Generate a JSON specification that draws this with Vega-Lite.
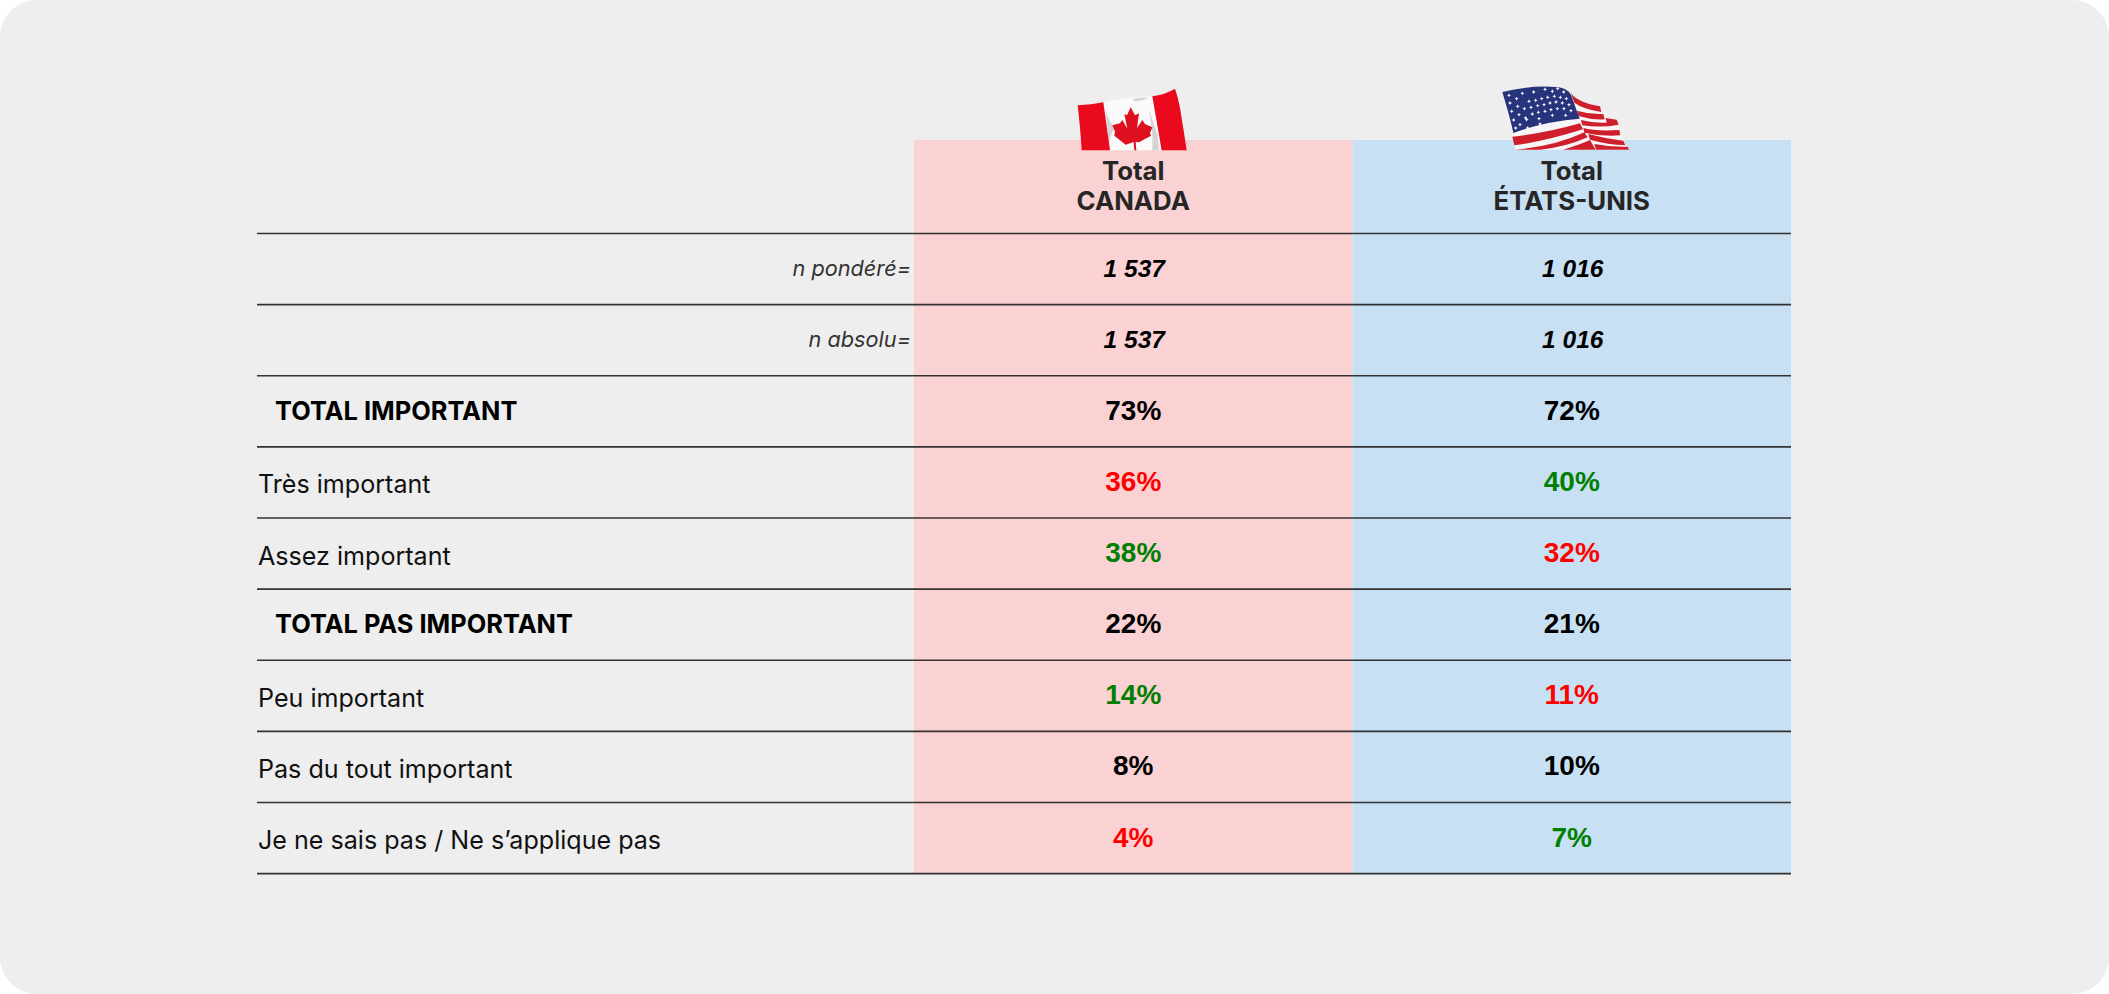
{
"$schema":"https://vega.github.io/schema/vega-lite/v6.json",
"width":2109,"height":994,"padding":0,"autosize":{"type":"none"},
"background":"#ffffff",
"config":{"view":{"stroke":null,"fill":"#eeeeee","cornerRadius":37}},
"resolve":{"scale":{"x":"independent","y":"independent","color":"independent","shape":"independent"}},
"datasets":{
"pays":[{"pays":"CANADA","bloc":"table"},{"pays":"ÉTATS-UNIS","bloc":"table"}],
"lignes":[{"ligne":"haut"},{"ligne":"n pondéré="},{"ligne":"n absolu="},{"ligne":"TOTAL IMPORTANT"},{"ligne":"Très important"},{"ligne":"Assez important"},{"ligne":"TOTAL PAS IMPORTANT"},{"ligne":"Peu important"},{"ligne":"Pas du tout important"},{"ligne":"Je ne sais pas / Ne s’applique pas"}],
"libelles":[
{"ligne":"n pondéré=","niveau":"n","colonne":"libellé"},
{"ligne":"n absolu=","niveau":"n","colonne":"libellé"},
{"ligne":"TOTAL IMPORTANT","niveau":"total","colonne":"libellé"},
{"ligne":"Très important","niveau":"item","colonne":"libellé"},
{"ligne":"Assez important","niveau":"item","colonne":"libellé"},
{"ligne":"TOTAL PAS IMPORTANT","niveau":"total","colonne":"libellé"},
{"ligne":"Peu important","niveau":"item","colonne":"libellé"},
{"ligne":"Pas du tout important","niveau":"item","colonne":"libellé"},
{"ligne":"Je ne sais pas / Ne s’applique pas","niveau":"item","colonne":"libellé"}],
"valeurs":[
{"ligne":"n pondéré=","pays":"CANADA","valeur":"1 537","type":"n","statut":"neutre"},
{"ligne":"n pondéré=","pays":"ÉTATS-UNIS","valeur":"1 016","type":"n","statut":"neutre"},
{"ligne":"n absolu=","pays":"CANADA","valeur":"1 537","type":"n","statut":"neutre"},
{"ligne":"n absolu=","pays":"ÉTATS-UNIS","valeur":"1 016","type":"n","statut":"neutre"},
{"ligne":"TOTAL IMPORTANT","pays":"CANADA","valeur":"73%","type":"pct","statut":"neutre"},
{"ligne":"TOTAL IMPORTANT","pays":"ÉTATS-UNIS","valeur":"72%","type":"pct","statut":"neutre"},
{"ligne":"Très important","pays":"CANADA","valeur":"36%","type":"pct","statut":"bas"},
{"ligne":"Très important","pays":"ÉTATS-UNIS","valeur":"40%","type":"pct","statut":"haut"},
{"ligne":"Assez important","pays":"CANADA","valeur":"38%","type":"pct","statut":"haut"},
{"ligne":"Assez important","pays":"ÉTATS-UNIS","valeur":"32%","type":"pct","statut":"bas"},
{"ligne":"TOTAL PAS IMPORTANT","pays":"CANADA","valeur":"22%","type":"pct","statut":"neutre"},
{"ligne":"TOTAL PAS IMPORTANT","pays":"ÉTATS-UNIS","valeur":"21%","type":"pct","statut":"neutre"},
{"ligne":"Peu important","pays":"CANADA","valeur":"14%","type":"pct","statut":"haut"},
{"ligne":"Peu important","pays":"ÉTATS-UNIS","valeur":"11%","type":"pct","statut":"bas"},
{"ligne":"Pas du tout important","pays":"CANADA","valeur":"8%","type":"pct","statut":"neutre"},
{"ligne":"Pas du tout important","pays":"ÉTATS-UNIS","valeur":"10%","type":"pct","statut":"neutre"},
{"ligne":"Je ne sais pas / Ne s’applique pas","pays":"CANADA","valeur":"4%","type":"pct","statut":"bas"},
{"ligne":"Je ne sais pas / Ne s’applique pas","pays":"ÉTATS-UNIS","valeur":"7%","type":"pct","statut":"haut"}],
"entetes":[
{"pays":"CANADA","rang":"un","texte":"Total"},{"pays":"CANADA","rang":"deux","texte":"CANADA"},
{"pays":"ÉTATS-UNIS","rang":"un","texte":"Total"},{"pays":"ÉTATS-UNIS","rang":"deux","texte":"ÉTATS-UNIS"}],
"drapeaux":[
{"pays":"CANADA","piece":"ca-blanc","bloc":"drapeau"},
{"pays":"CANADA","piece":"ca-pli","bloc":"drapeau"},
{"pays":"CANADA","piece":"ca-gauche","bloc":"drapeau"},
{"pays":"CANADA","piece":"ca-droite","bloc":"drapeau"},
{"pays":"CANADA","piece":"ca-feuille","bloc":"drapeau"},
{"pays":"ÉTATS-UNIS","piece":"us-blanc","bloc":"drapeau"},
{"pays":"ÉTATS-UNIS","piece":"us-rouge","bloc":"drapeau"},
{"pays":"ÉTATS-UNIS","piece":"us-bleu","bloc":"drapeau"},
{"pays":"ÉTATS-UNIS","piece":"us-etoiles","bloc":"drapeau"}]
},
"layer":[
{"data":{"name":"pays"},"mark":{"type":"rect"},
 "encoding":{
 "x":{"field":"pays","type":"nominal","axis":null,"scale":{"type":"band","domain":["CANADA","ÉTATS-UNIS"],"range":[914,1791],"paddingInner":0,"paddingOuter":0}},
 "y":{"field":"bloc","type":"nominal","axis":null,"scale":{"type":"band","domain":["table"],"range":[140,873.6],"paddingInner":0,"paddingOuter":0}},
 "color":{"field":"pays","type":"nominal","legend":null,"scale":{"domain":["CANADA","ÉTATS-UNIS"],"range":["#fbd2d3","#c8e0f3"]}}}},
{"data":{"name":"lignes"},"mark":{"type":"rule","color":"#333333","strokeWidth":1.6},
 "encoding":{
 "x":{"datum":0,"type":"quantitative","axis":null,"scale":{"domain":[0,1],"range":[257,1791]}},
 "x2":{"datum":1},
 "y":{"field":"ligne","type":"nominal","axis":null,"sort":null,"scale":{"type":"point","domain":["haut","n pondéré=","n absolu=","TOTAL IMPORTANT","Très important","Assez important","TOTAL PAS IMPORTANT","Peu important","Pas du tout important","Je ne sais pas / Ne s’applique pas"],"range":[233.5,873.6],"padding":0}}}},
{"data":{"name":"libelles"},"transform":[{"filter":"datum.niveau === 'item'"}],
 "mark":{"type":"text","align":"left","baseline":"middle","font":"Inter","fontSize":25.1,"color":"#111111","dy":3},
 "encoding":{
 "text":{"field":"ligne"},
 "x":{"field":"colonne","type":"nominal","bandPosition":0,"axis":null,"scale":{"type":"band","domain":["libellé"],"range":[258,910],"paddingInner":0,"paddingOuter":0}},
 "y":{"field":"ligne","type":"nominal","axis":null,"scale":{"type":"band","domain":["n pondéré=","n absolu=","TOTAL IMPORTANT","Très important","Assez important","TOTAL PAS IMPORTANT","Peu important","Pas du tout important","Je ne sais pas / Ne s’applique pas"],"range":[233.5,873.6],"paddingInner":0,"paddingOuter":0}}}},
{"data":{"name":"libelles"},"transform":[{"filter":"datum.niveau === 'total'"}],
 "mark":{"type":"text","align":"left","baseline":"middle","font":"Inter","fontSize":25.4,"fontWeight":"bold","color":"#000000","dy":0.5},
 "encoding":{
 "text":{"field":"ligne"},
 "x":{"field":"colonne","type":"nominal","bandPosition":0,"axis":null,"scale":{"type":"band","domain":["libellé"],"range":[275,910],"paddingInner":0,"paddingOuter":0}},
 "y":{"field":"ligne","type":"nominal","axis":null,"scale":{"type":"band","domain":["n pondéré=","n absolu=","TOTAL IMPORTANT","Très important","Assez important","TOTAL PAS IMPORTANT","Peu important","Pas du tout important","Je ne sais pas / Ne s’applique pas"],"range":[233.5,873.6],"paddingInner":0,"paddingOuter":0}}}},
{"data":{"name":"libelles"},"transform":[{"filter":"datum.niveau === 'n'"}],
 "mark":{"type":"text","align":"right","baseline":"middle","font":"Inter","fontSize":21.7,"fontStyle":"italic","color":"#333333"},
 "encoding":{
 "text":{"field":"ligne"},
 "x":{"field":"colonne","type":"nominal","bandPosition":1,"axis":null,"scale":{"type":"band","domain":["libellé"],"range":[258,911],"paddingInner":0,"paddingOuter":0}},
 "y":{"field":"ligne","type":"nominal","axis":null,"scale":{"type":"band","domain":["n pondéré=","n absolu=","TOTAL IMPORTANT","Très important","Assez important","TOTAL PAS IMPORTANT","Peu important","Pas du tout important","Je ne sais pas / Ne s’applique pas"],"range":[233.5,873.6],"paddingInner":0,"paddingOuter":0}}}},
{"data":{"name":"valeurs"},"transform":[{"filter":"datum.type === 'pct'"}],
 "mark":{"type":"text","align":"center","baseline":"middle","font":"Liberation Sans","fontSize":28,"fontWeight":"bold","dy":0.5},
 "encoding":{
 "text":{"field":"valeur"},
 "x":{"field":"pays","type":"nominal","axis":null,"scale":{"type":"band","domain":["CANADA","ÉTATS-UNIS"],"range":[914,1791],"paddingInner":0,"paddingOuter":0}},
 "y":{"field":"ligne","type":"nominal","axis":null,"scale":{"type":"band","domain":["n pondéré=","n absolu=","TOTAL IMPORTANT","Très important","Assez important","TOTAL PAS IMPORTANT","Peu important","Pas du tout important","Je ne sais pas / Ne s’applique pas"],"range":[233.5,873.6],"paddingInner":0,"paddingOuter":0}},
 "color":{"field":"statut","type":"nominal","legend":null,"scale":{"domain":["haut","bas","neutre"],"range":["#008000","#ff0000","#000000"]}}}},
{"data":{"name":"valeurs"},"transform":[{"filter":"datum.type === 'n'"}],
 "mark":{"type":"text","align":"center","baseline":"middle","font":"Liberation Sans","fontSize":24.5,"fontWeight":"bold","fontStyle":"italic","color":"#000000","dy":0.5,"dx":1},
 "encoding":{
 "text":{"field":"valeur"},
 "x":{"field":"pays","type":"nominal","axis":null,"scale":{"type":"band","domain":["CANADA","ÉTATS-UNIS"],"range":[914,1791],"paddingInner":0,"paddingOuter":0}},
 "y":{"field":"ligne","type":"nominal","axis":null,"scale":{"type":"band","domain":["n pondéré=","n absolu=","TOTAL IMPORTANT","Très important","Assez important","TOTAL PAS IMPORTANT","Peu important","Pas du tout important","Je ne sais pas / Ne s’applique pas"],"range":[233.5,873.6],"paddingInner":0,"paddingOuter":0}}}},
{"data":{"name":"entetes"},
 "mark":{"type":"text","align":"center","baseline":"middle","font":"Inter","fontSize":25.8,"fontWeight":"bold","color":"#262626"},
 "encoding":{
 "text":{"field":"texte"},
 "x":{"field":"pays","type":"nominal","axis":null,"scale":{"type":"band","domain":["CANADA","ÉTATS-UNIS"],"range":[914,1791],"paddingInner":0,"paddingOuter":0}},
 "y":{"field":"rang","type":"nominal","axis":null,"scale":{"type":"point","domain":["un","deux"],"range":[172,202],"padding":0}}}},
{"data":{"name":"drapeaux"},
 "mark":{"type":"point","filled":true,"opacity":1,"strokeWidth":0,"size":0.4444},
 "encoding":{
 "x":{"field":"pays","type":"nominal","axis":null,"scale":{"type":"point","domain":["CANADA","ÉTATS-UNIS"],"range":[1065,1495],"padding":0}},
 "y":{"field":"bloc","type":"nominal","axis":null,"scale":{"type":"point","domain":["drapeau"],"range":[78,78],"padding":0}},
 "color":{"field":"piece","type":"nominal","legend":null,"scale":{"domain":["ca-blanc","ca-pli","ca-gauche","ca-droite","ca-feuille","us-blanc","us-rouge","us-bleu","us-etoiles"],"range":["#fafafa","#d4d2d2","#ea0a1e","#ea0a1e","#de0f1f","#f7f5f5","#cf1f2c","#27347c","#f6f6fa"]}},
 "shape":{"field":"piece","type":"nominal","legend":null,"scale":{"domain":["ca-blanc","ca-pli","ca-gauche","ca-droite","ca-feuille","us-blanc","us-rouge","us-bleu","us-etoiles"],
 "range":[
 "M115,73Q170,60,262,55L290,217L135,217Z",
 "M205,62Q235,58,250,60Q225,72,205,68ZM122,95Q130,130,150,150Q135,170,132,200ZM250,90Q262,130,278,170L282,217L262,217Q265,150,250,90Z",
 "M38,82Q80,80,115,73L135,217L50,217Q45,140,38,82Z",
 "M262,55Q300,50,330,32Q340,60,345,90Q355,150,365,217L290,217Z",
 "M197,88L210,112L222,106L216,150L232,126L240,138L262,148L255,165L258,173L222,193L212,192L214,217L208,217L206,192L182,200L148,173L150,160L142,142L165,136L172,126L187,152L178,108L186,112Z",
 "M22,42Q110,20,190,28Q215,30,228,45Q250,75,315,85L330,120L365,125L375,165L400,215L60,215L52,165Z",
 "M52,176Q150,166,255,136L264,154Q150,190,58,202ZM60,215Q180,205,268,163L278,178Q210,208,135,215ZM205,215Q260,198,285,186L302,215ZM228,46Q250,75,315,85L319,102Q265,94,238,74ZM246,98Q285,110,325,108L329,124Q290,126,250,114ZM258,126Q295,136,335,134L332,120L365,125L371,140Q320,150,262,142ZM265,150Q300,160,373,156L376,172Q320,176,268,164ZM280,168Q330,182,385,188L391,202Q340,200,285,185ZM298,198Q350,208,398,206L402,215L303,215Z",
 "M22,42Q110,20,190,28Q215,30,228,50L254,122Q150,130,55,165Q48,130,22,42Z",
 "M42,46l2,4,4,2,-4,2,-2,4,-2,-4,-4,-2,4,-2,2,-4zM82,40l2,4,4,2,-4,2,-2,4,-2,-4,-4,-2,4,-2,2,-4zM116,36l2,4,4,2,-4,2,-2,4,-2,-4,-4,-2,4,-2,2,-4zM150,28l2,4,4,2,-4,2,-2,4,-2,-4,-4,-2,4,-2,2,-4zM172,34l2,4,4,2,-4,2,-2,4,-2,-4,-4,-2,4,-2,2,-4zM188,26l2,4,4,2,-4,2,-2,4,-2,-4,-4,-2,4,-2,2,-4zM206,36l2,4,4,2,-4,2,-2,4,-2,-4,-4,-2,4,-2,2,-4zM45,69l2,4,4,2,-4,2,-2,4,-2,-4,-4,-2,4,-2,2,-4zM65,56l2,4,4,2,-4,2,-2,4,-2,-4,-4,-2,4,-2,2,-4zM102,64l2,4,4,2,-4,2,-2,4,-2,-4,-4,-2,4,-2,2,-4zM122,61l2,4,4,2,-4,2,-2,4,-2,-4,-4,-2,4,-2,2,-4zM140,56l2,4,4,2,-4,2,-2,4,-2,-4,-4,-2,4,-2,2,-4zM158,52l2,4,4,2,-4,2,-2,4,-2,-4,-4,-2,4,-2,2,-4zM178,49l2,4,4,2,-4,2,-2,4,-2,-4,-4,-2,4,-2,2,-4zM196,52l2,4,4,2,-4,2,-2,4,-2,-4,-4,-2,4,-2,2,-4zM214,56l2,4,4,2,-4,2,-2,4,-2,-4,-4,-2,4,-2,2,-4zM50,94l2,4,4,2,-4,2,-2,4,-2,-4,-4,-2,4,-2,2,-4zM68,79l2,4,4,2,-4,2,-2,4,-2,-4,-4,-2,4,-2,2,-4zM88,86l2,4,4,2,-4,2,-2,4,-2,-4,-4,-2,4,-2,2,-4zM108,82l2,4,4,2,-4,2,-2,4,-2,-4,-4,-2,4,-2,2,-4zM128,77l2,4,4,2,-4,2,-2,4,-2,-4,-4,-2,4,-2,2,-4zM147,74l2,4,4,2,-4,2,-2,4,-2,-4,-4,-2,4,-2,2,-4zM165,69l2,4,4,2,-4,2,-2,4,-2,-4,-4,-2,4,-2,2,-4zM183,66l2,4,4,2,-4,2,-2,4,-2,-4,-4,-2,4,-2,2,-4zM202,69l2,4,4,2,-4,2,-2,4,-2,-4,-4,-2,4,-2,2,-4zM222,74l2,4,4,2,-4,2,-2,4,-2,-4,-4,-2,4,-2,2,-4zM56,120l2,4,4,2,-4,2,-2,4,-2,-4,-4,-2,4,-2,2,-4zM72,104l2,4,4,2,-4,2,-2,4,-2,-4,-4,-2,4,-2,2,-4zM92,114l2,4,4,2,-4,2,-2,4,-2,-4,-4,-2,4,-2,2,-4zM112,102l2,4,4,2,-4,2,-2,4,-2,-4,-4,-2,4,-2,2,-4zM130,97l2,4,4,2,-4,2,-2,4,-2,-4,-4,-2,4,-2,2,-4zM150,94l2,4,4,2,-4,2,-2,4,-2,-4,-4,-2,4,-2,2,-4zM168,89l2,4,4,2,-4,2,-2,4,-2,-4,-4,-2,4,-2,2,-4zM187,86l2,4,4,2,-4,2,-2,4,-2,-4,-4,-2,4,-2,2,-4zM207,86l2,4,4,2,-4,2,-2,4,-2,-4,-4,-2,4,-2,2,-4zM228,92l2,4,4,2,-4,2,-2,4,-2,-4,-4,-2,4,-2,2,-4zM75,134l2,4,4,2,-4,2,-2,4,-2,-4,-4,-2,4,-2,2,-4zM95,119l2,4,4,2,-4,2,-2,4,-2,-4,-4,-2,4,-2,2,-4zM132,116l2,4,4,2,-4,2,-2,4,-2,-4,-4,-2,4,-2,2,-4zM172,106l2,4,4,2,-4,2,-2,4,-2,-4,-4,-2,4,-2,2,-4zM212,106l2,4,4,2,-4,2,-2,4,-2,-4,-4,-2,4,-2,2,-4zM62,144l2,4,4,2,-4,2,-2,4,-2,-4,-4,-2,4,-2,2,-4zM98,144l2,4,4,2,-4,2,-2,4,-2,-4,-4,-2,4,-2,2,-4zM135,132l2,4,4,2,-4,2,-2,4,-2,-4,-4,-2,4,-2,2,-4z"
 ]}}}}
]}
